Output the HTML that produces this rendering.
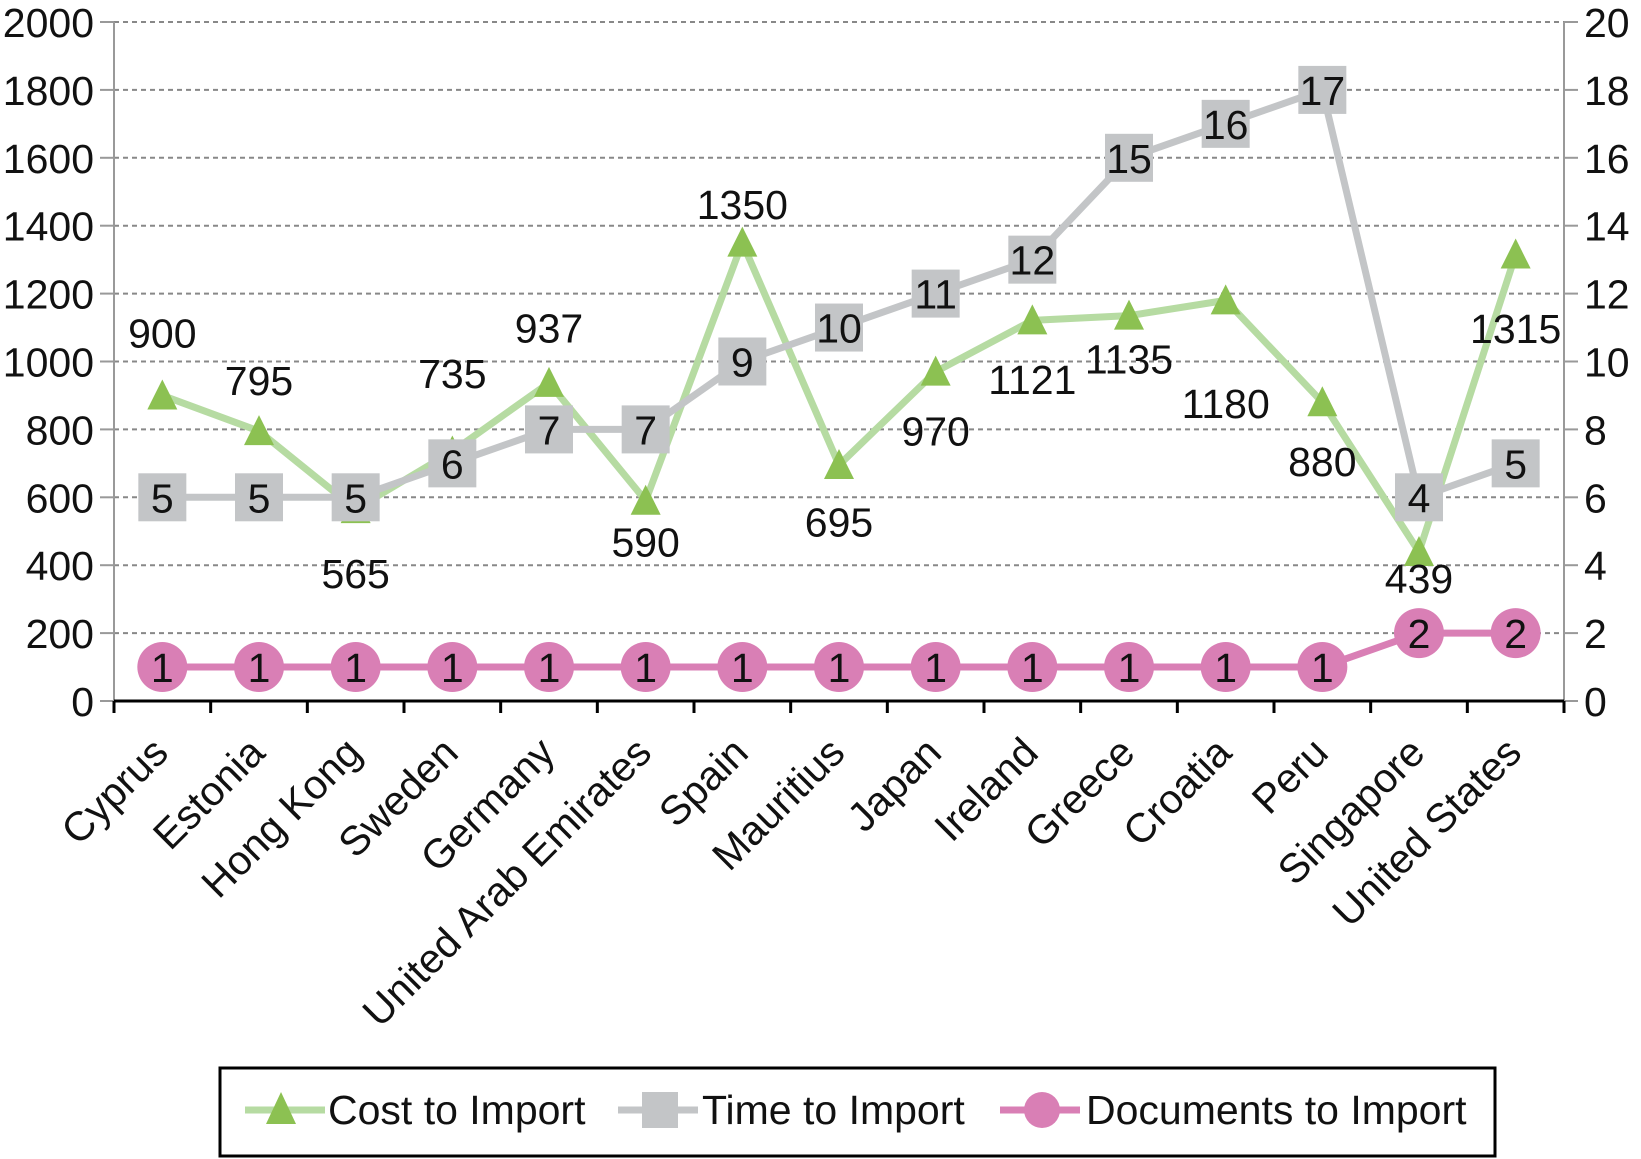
<!DOCTYPE html>
<html><head><meta charset="utf-8"><style>
html,body{margin:0;padding:0;background:#fff}
svg{display:block;font-family:"Liberation Sans",Arial,sans-serif}
</style></head><body>
<svg id="chart" width="1641" height="1159" viewBox="0 0 1641 1159" xmlns="http://www.w3.org/2000/svg">
<g id="grid"></g><g id="axes"></g><g id="series"></g><g id="labels"></g>
<g>
<rect x="220" y="1068" width="1275" height="88" fill="#fff" stroke="#000" stroke-width="3"/>
<g>
<line x1="245" y1="1110" x2="325" y2="1110" stroke="#b6dba2" stroke-width="7"/>
<polygon points="281,1092 266,1124 296,1124" fill="#8cc152"/>
<text x="328" y="1124" font-size="41" fill="#111">Cost to Import</text></g>
<g>
<line x1="618" y1="1110" x2="698" y2="1110" stroke="#c3c5c7" stroke-width="7"/>
<rect x="642" y="1092" width="36" height="36" fill="#c3c5c7"/>
<text x="702" y="1124" font-size="41" fill="#111">Time to Import</text></g>
<g>
<line x1="1000" y1="1110" x2="1080" y2="1110" stroke="#d97fb5" stroke-width="7"/>
<circle cx="1042" cy="1110" r="18" fill="#d97fb5"/>
<text x="1086" y="1124" font-size="41" fill="#111">Documents to Import</text></g>
</g>
</svg>
<script>
const categories=["Cyprus","Estonia","Hong Kong","Sweden","Germany","United Arab Emirates","Spain","Mauritius","Japan","Ireland","Greece","Croatia","Peru","Singapore","United States"];
const costValues=[900,795,565,735,937,590,1350,695,970,1121,1135,1180,880,439,1315];
const timeValues=[6,6,6,7,8,8,10,11,12,13,16,17,18,6,7];
const timeLabels=[5,5,5,6,7,7,9,10,11,12,15,16,17,4,5];
const docValues=[1,1,1,1,1,1,1,1,1,1,1,1,1,2,2];
const leftTicks=[0,200,400,600,800,1000,1200,1400,1600,1800,2000];
const rightTicks=[0,2,4,6,8,10,12,14,16,18,20];
const costLabelOffset=[-60,-49,61,-75,-53,39,-37,54,56,56,41,98,56,25,70];

const NS="http://www.w3.org/2000/svg";
const X0=114,X1=1564,Y0=701,Y1=22;
const bw=(X1-X0)/categories.length;
const xc=i=>X0+bw*(i+0.5);
const yL=v=>Y0-(v/2000)*(Y0-Y1);
const yR=v=>Y0-(v/20)*(Y0-Y1);
function mk(tag,attrs,parent){const e=document.createElementNS(NS,tag);for(const k in attrs)e.setAttribute(k,attrs[k]);parent.appendChild(e);return e;}
const grid=document.getElementById('grid'),axes=document.getElementById('axes'),ser=document.getElementById('series'),lab=document.getElementById('labels');

leftTicks.forEach((t,i)=>{
  const y=yL(t);
  if(t>0){const g=mk('line',{x1:X0,x2:X1,y1:y,y2:y,stroke:'#888','stroke-width':2,'stroke-dasharray':'5,4'},grid);
  
  }
  mk('line',{x1:X0-14,x2:X0,y1:y,y2:y,stroke:'#999','stroke-width':2},axes);
  mk('line',{x1:X1,x2:X1+14,y1:y,y2:y,stroke:'#999','stroke-width':2},axes);
  const tl=mk('text',{x:X0-20,y:y+15,'text-anchor':'end','font-size':41,fill:'#111'},axes);
  tl.textContent=t;
  
  
  const tr=mk('text',{x:X1+20,y:y+15,'text-anchor':'start','font-size':41,fill:'#111'},axes);
  tr.textContent=rightTicks[i];
  
  
});
mk('line',{x1:X0,x2:X0,y1:Y1,y2:Y0,stroke:'#999','stroke-width':2},axes);
mk('line',{x1:X1,x2:X1,y1:Y1,y2:Y0,stroke:'#999','stroke-width':2},axes);
mk('line',{x1:X0,x2:X1,y1:Y0,y2:Y0,stroke:'#000','stroke-width':3},axes);
for(let i=0;i<=categories.length;i++){const x=X0+bw*i;mk('line',{x1:x,x2:x,y1:Y0,y2:Y0+12,stroke:'#000','stroke-width':3},axes);}
categories.forEach((c,i)=>{
  const x=xc(i)+8,y=Y0+54;
  const t=mk('text',{x:x,y:y,'text-anchor':'end','font-size':41,fill:'#111',transform:`rotate(-45 ${x} ${y})`},axes);
  t.textContent=c;
  
  
});

function line(vals,yf,color,name){
  const p=mk('polyline',{points:vals.map((v,i)=>xc(i)+','+yf(v)).join(' '),fill:'none',stroke:color,'stroke-width':7,'stroke-linejoin':'round'},ser);
  
  
}
line(costValues,yL,'#b6dba2','cost-line');
line(timeValues,yR,'#c3c5c7','time-line');
line(docValues,yR,'#d97fb5','documents-line');

costValues.forEach((v,i)=>{
  const x=xc(i),y=yL(v);
  const m=mk('polygon',{points:`${x},${y-16} ${x-15},${y+14} ${x+15},${y+14}`,fill:'#8cc152'},ser);
  
  
  const ly=y+costLabelOffset[i]*1.047+15;
  const t=mk('text',{x:x,y:ly,'text-anchor':'middle','font-size':41,fill:'#111'},lab);
  t.textContent=v;
  
  
});
timeValues.forEach((v,i)=>{
  const x=xc(i),y=yR(v);
  const m=mk('rect',{x:x-24,y:y-24,width:48,height:48,fill:'#c3c5c7'},ser);
  
  
  const t=mk('text',{x:x,y:y+15,'text-anchor':'middle','font-size':41,fill:'#111'},lab);
  t.textContent=timeLabels[i];
  
  
});
docValues.forEach((v,i)=>{
  const x=xc(i),y=yR(v);
  const m=mk('circle',{cx:x,cy:y,r:25,fill:'#d97fb5'},ser);
  
  
  const t=mk('text',{x:x,y:y+15,'text-anchor':'middle','font-size':41,fill:'#111'},lab);
  t.textContent=v;
  
  
});
</script>
</body></html>
